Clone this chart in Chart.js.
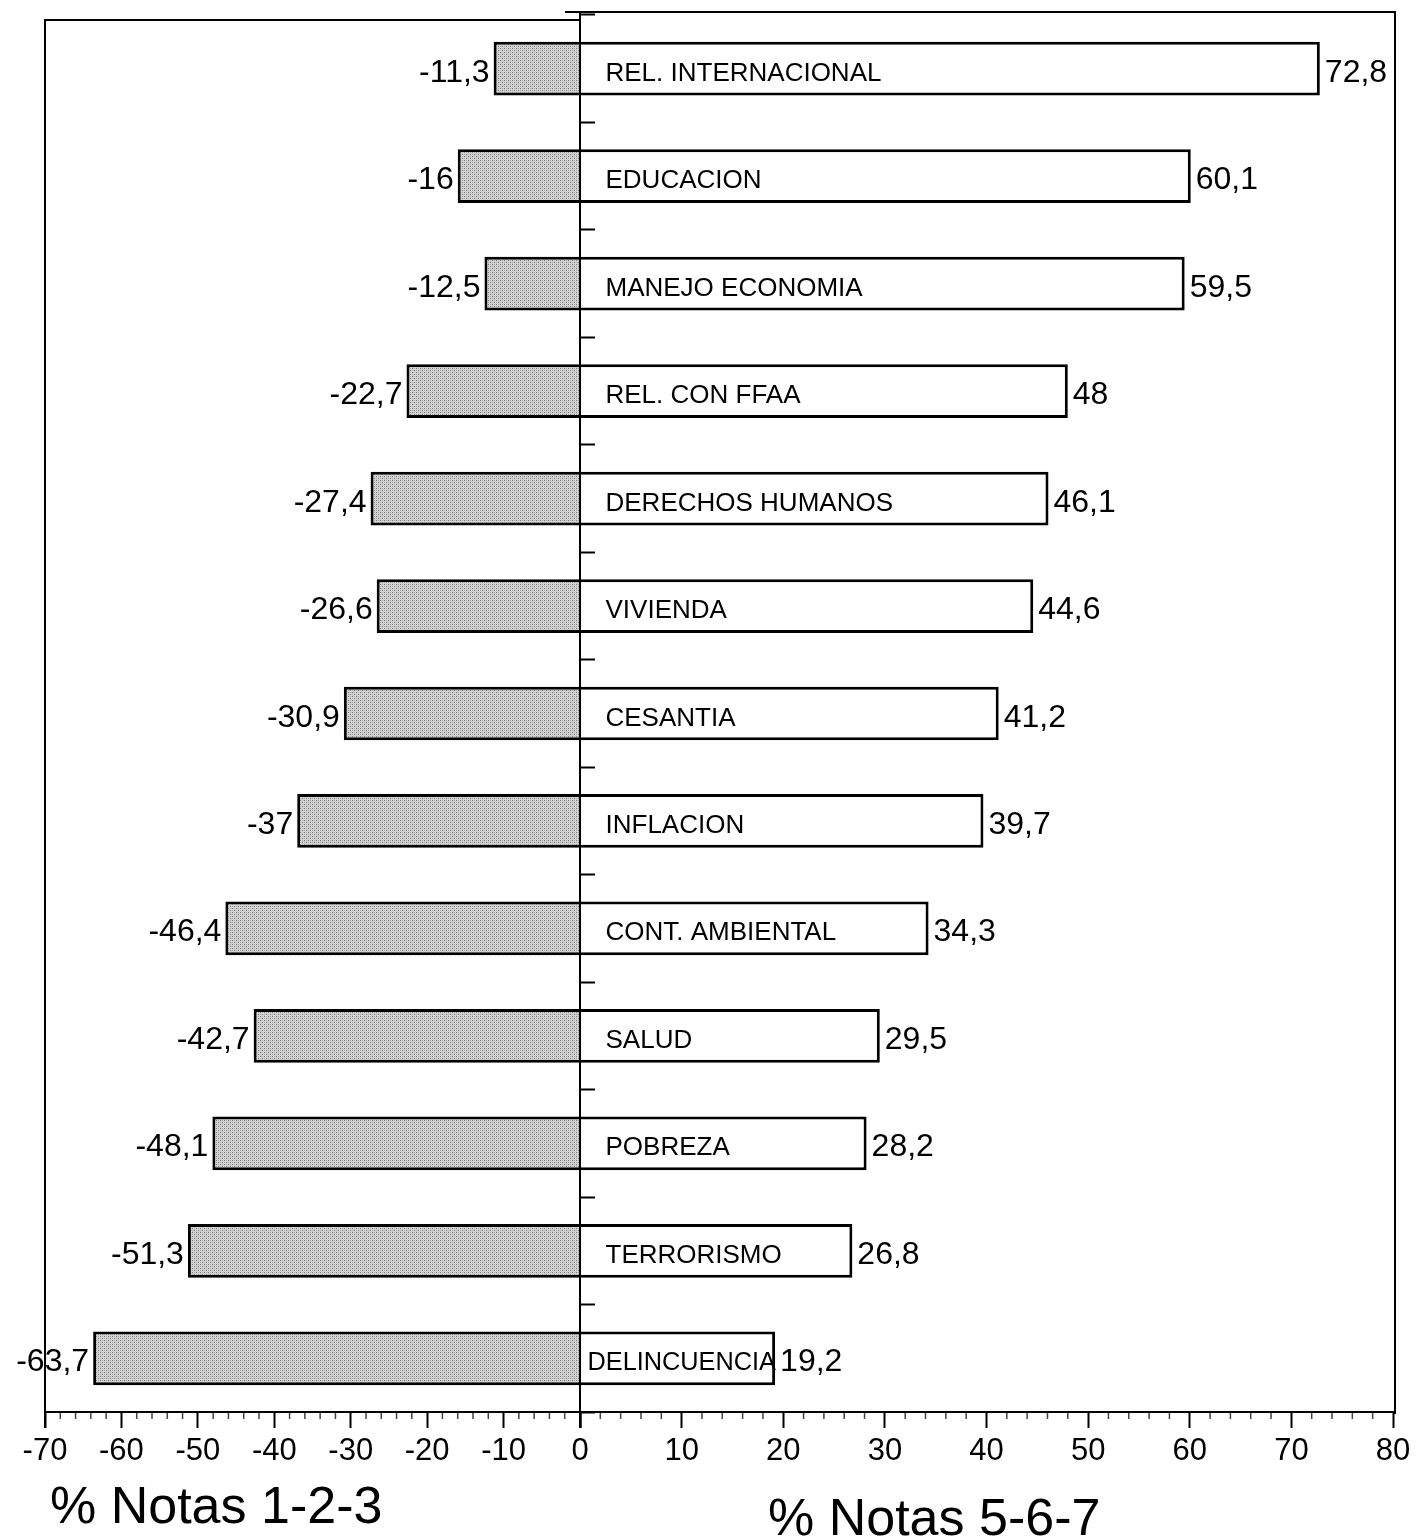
<!DOCTYPE html>
<html>
<head>
<meta charset="utf-8">
<script src="https://cdn.jsdelivr.net/npm/chart.js@4.4.1/dist/chart.umd.min.js"></script>
<style>
  html, body { margin: 0; padding: 0; background: #fff; }
  #wrap { position: relative; width: 1416px; height: 1539px; }
  #wrap canvas { position: absolute; left: 0; top: 0; }
</style>
</head>
<body>
<div id="wrap">
  <canvas id="chartNeg" width="1416" height="1539"></canvas>
  <canvas id="chartPos" width="1416" height="1539"></canvas>
</div>
<script>
// --- datos ---
const temas = ['REL. INTERNACIONAL', 'EDUCACION', 'MANEJO ECONOMIA', 'REL. CON FFAA',
  'DERECHOS HUMANOS', 'VIVIENDA', 'CESANTIA', 'INFLACION', 'CONT. AMBIENTAL',
  'SALUD', 'POBREZA', 'TERRORISMO', 'DELINCUENCIA'];
const notasBajas = [-11.3, -16, -12.5, -22.7, -27.4, -26.6, -30.9, -37, -46.4, -42.7, -48.1, -51.3, -63.7];
const notasAltas = [72.8, 60.1, 59.5, 48, 46.1, 44.6, 41.2, 39.7, 34.3, 29.5, 28.2, 26.8, 19.2];
const ticksNeg = [-70, -60, -50, -40, -30, -20, -10, 0];
const ticksPos = [0, 10, 20, 30, 40, 50, 60, 70, 80];
const pasoMenor = 2;
const tituloNeg = '% Notas 1-2-3';
const tituloPos = '% Notas 5-6-7';

const FONT = '"Liberation Sans", Arial, Helvetica, sans-serif';

// trama gris punteada para las barras negativas
function tramaGris() {
    const c = document.createElement('canvas');
    c.width = 4; c.height = 4;
    const g = c.getContext('2d');
    g.fillStyle = '#d2d2d2';
    g.fillRect(0, 0, 4, 4);
    g.fillStyle = '#7c7c7c';
    g.fillRect(0, 0, 1, 1);
    g.fillRect(2, 2, 1, 1);
    g.fillStyle = '#a9a9a9';
    g.fillRect(2, 0, 1, 1);
    g.fillRect(0, 2, 1, 1);
    return g.createPattern(c, 'repeat');
}

const fmt = v => String(v).replace('.', ',');

// ticks menores cada 2 unidades bajo el eje
function ticksMenores(chart) {
    const sc = chart.scales.x;
    const ctx = chart.ctx;
    const ca = chart.chartArea;
    ctx.save();
    ctx.strokeStyle = '#444';
    ctx.lineWidth = 1.5;
    for (let v = sc.min; v <= sc.max; v += pasoMenor) {
        if (v % 10 === 0) continue;
        const x = sc.getPixelForValue(v);
        ctx.beginPath();
        ctx.moveTo(x, ca.bottom + 1);
        ctx.lineTo(x, ca.bottom + 7);
        ctx.stroke();
    }
    ctx.restore();
}

const etiquetasNeg = {
    id: 'etiquetasNeg',
    afterDatasetsDraw(chart) {
        const ctx = chart.ctx;
        const meta = chart.getDatasetMeta(0);
        ctx.save();
        ctx.fillStyle = '#000';
        ctx.font = '32px ' + FONT;
        ctx.textAlign = 'right';
        ctx.textBaseline = 'alphabetic';
        meta.data.forEach((bar, i) => {
            ctx.fillText(fmt(notasBajas[i]), bar.x - 4, bar.y + 13);
        });
        ctx.restore();
    },
    afterDraw(chart) {
        const ctx = chart.ctx;
        const ca = chart.chartArea;
        ctx.save();
        ctx.strokeStyle = '#000';
        ctx.lineWidth = 2;
        ctx.beginPath();
        ctx.moveTo(ca.right, ca.top + 5);
        ctx.lineTo(ca.left, ca.top + 5);
        ctx.lineTo(ca.left, ca.bottom + 16);
        ctx.stroke();
        ctx.restore();
        ticksMenores(chart);
    }
};

const etiquetasPos = {
    id: 'etiquetasPos',
    afterDatasetsDraw(chart) {
        const ctx = chart.ctx;
        const meta = chart.getDatasetMeta(0);
        ctx.save();
        ctx.fillStyle = '#000';
        ctx.textBaseline = 'alphabetic';
        ctx.textAlign = 'left';
        meta.data.forEach((bar, i) => {
            ctx.font = '32px ' + FONT;
            ctx.fillText(fmt(notasAltas[i]), bar.x + 5, bar.y + 13);
            // nombre del tema dentro de la barra
            let size = 26;
            ctx.font = size + 'px ' + FONT;
            let w = ctx.measureText(temas[i]).width;
            let x0 = bar.base + 25;
            if (x0 + w > bar.x - 4) {
                x0 = bar.base + 7;
                const disponible = bar.x - x0 + 1;
                if (w > disponible) {
                    size = size * disponible / w;
                    ctx.font = size.toFixed(1) + 'px ' + FONT;
                }
            }
            ctx.fillText(temas[i], x0, bar.y + 12);
        });
        ctx.restore();
    },
    afterDraw(chart) {
        const ctx = chart.ctx;
        const ca = chart.chartArea;
        ctx.save();
        ctx.strokeStyle = '#000';
        ctx.lineWidth = 2;
        ctx.beginPath();
        ctx.moveTo(ca.left - 15, ca.top - 3);
        ctx.lineTo(ca.right + 2, ca.top - 3);
        ctx.lineTo(ca.right + 2, ca.bottom + 2);
        ctx.moveTo(ca.left, ca.top - 3);
        ctx.lineTo(ca.left, ca.bottom + 16);
        ctx.stroke();
        ctx.restore();
        ticksMenores(chart);

        ctx.save();
        ctx.fillStyle = '#000';
        ctx.font = '52px ' + FONT;
        ctx.textAlign = 'left';
        ctx.textBaseline = 'alphabetic';
        ctx.fillText(tituloNeg, 50, 1523);
        ctx.fillText(tituloPos, 768, 1535);
        ctx.restore();
    }
};

function ejeX(min, max, lista, ocultarCero) {
    return {
        type: 'linear',
        min: min,
        max: max,
        afterBuildTicks: s => { s.ticks = lista.map(v => ({ value: v })); },
        afterFit: s => { s.height = 60; },
        grid: { drawOnChartArea: false, tickLength: 16, tickWidth: 2, tickColor: '#000' },
        border: { color: '#000', width: 2 },
        ticks: {
            color: '#000',
            font: { family: FONT, size: 31 },
            padding: 5,
            maxRotation: 0,
            autoSkip: false,
            callback: v => (ocultarCero && v === 0) ? '' : String(v)
        }
    };
}

const comunes = {
    indexAxis: 'y',
    responsive: false,
    animation: false,
    plugins: { legend: { display: false }, tooltip: { enabled: false } }
};

new Chart(document.getElementById('chartNeg'), {
    type: 'bar',
    data: {
        labels: temas,
        datasets: [{
            data: notasBajas,
            backgroundColor: tramaGris(),
            borderColor: '#000',
            borderWidth: 3,
            barPercentage: 0.5,
            categoryPercentage: 1
        }]
    },
    options: Object.assign({}, comunes, {
        layout: { padding: { left: 45, right: 1416 - 580 - 15, top: 15, bottom: 67 } },
        scales: {
            x: ejeX(-70, 0, ticksNeg, false),
            y: {
                position: 'right',
                grid: { drawOnChartArea: false, tickLength: 15, tickWidth: 2, tickColor: '#000' },
                border: { display: false },
                ticks: { display: false }
            }
        }
    }),
    plugins: [etiquetasNeg]
});

new Chart(document.getElementById('chartPos'), {
    type: 'bar',
    data: {
        labels: temas,
        datasets: [{
            data: notasAltas,
            backgroundColor: '#fff',
            borderColor: '#000',
            borderWidth: 3,
            barPercentage: 0.5,
            categoryPercentage: 1
        }]
    },
    options: Object.assign({}, comunes, {
        layout: { padding: { left: 580, right: 23, top: 15, bottom: 67 } },
        scales: {
            x: ejeX(0, 80, ticksPos, true),
            y: { display: false }
        }
    }),
    plugins: [etiquetasPos]
});
</script>
</body>
</html>
